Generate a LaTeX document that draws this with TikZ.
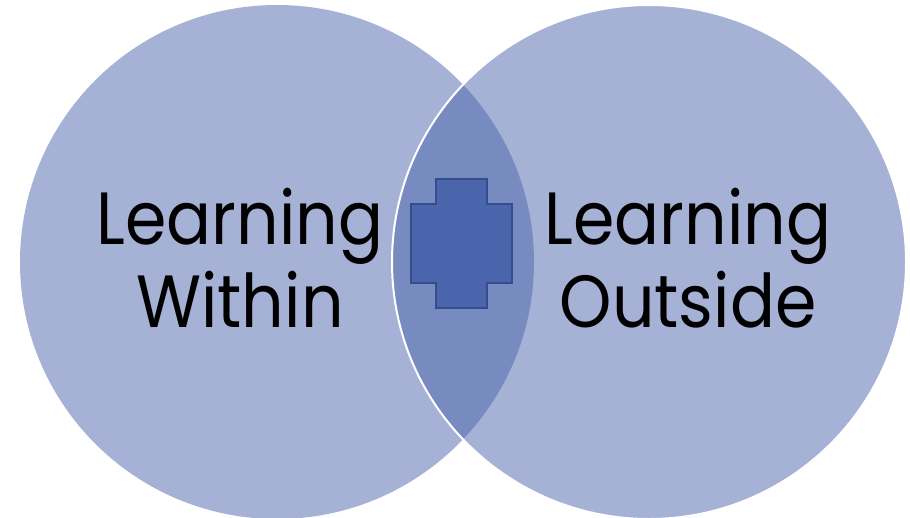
\documentclass[tikz,border=0pt]{standalone}
\usepackage{fontspec}
\setmainfont{Poppins}
\definecolor{vennblue}{RGB}{75,101,173}
\definecolor{plusedge}{RGB}{52,78,140}
\tikzset{
  venncircle/.style={circle, minimum size=514pt, inner sep=0pt, fill=vennblue, fill opacity=0.5},
  label/.style={align=center, text=black, font=\fontsize{74}{83}\selectfont, inner sep=0pt, xscale=0.9, transform shape},
}
\begin{document}
\begin{tikzpicture}[x=1pt,y=-1pt]
\useasboundingbox (0,0) rectangle (910,517);
\node[venncircle] (left) at (277,262) {};
\node[venncircle, draw=white, line width=2pt, draw opacity=1] (right) at (649,262) {};
\draw[fill=vennblue, draw=plusedge, line width=1.6pt, line join=miter]
  (436,179) -- (487,179) -- (487,204) -- (512,204) -- (512,283) -- (487,283)
  -- (487,308) -- (436,308) -- (436,283) -- (411,283) -- (411,204) -- (436,204) -- cycle;
\node[label] (lw) at (240,258) {Learning\\Within};
\node[label] (lo) at (688,258) {Learning\\Outside};
\end{tikzpicture}
\end{document}
